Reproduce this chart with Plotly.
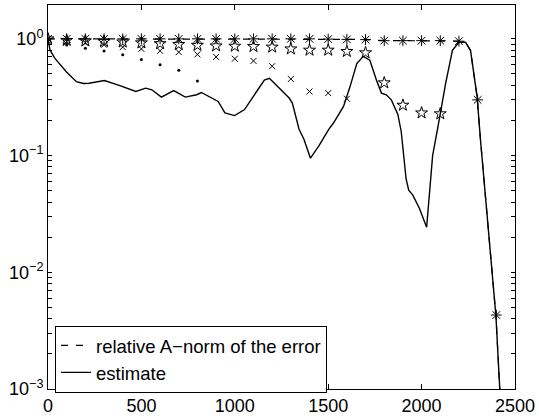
import plotly.graph_objects as go

# estimate (solid line)
est_x = [0, 5, 11, 37, 99, 152, 190, 220, 302, 381, 470, 523, 556, 607, 673, 735, 796, 821,
         911, 947, 999, 1052, 1105, 1158, 1185, 1229, 1291, 1308, 1344, 1370, 1405, 1450,
         1503, 1529, 1582, 1617, 1653, 1688, 1723, 1758, 1785, 1811, 1838, 1873, 1891, 1917,
         1931, 1953, 1988, 2027, 2041, 2059, 2085, 2129, 2165, 2200, 2235, 2262, 2297, 2315,
         2398, 2420]
est_y = [1.0, 0.9, 0.80, 0.68, 0.52, 0.43, 0.415, 0.417, 0.44, 0.40, 0.354, 0.378, 0.366,
         0.317, 0.36, 0.317, 0.332, 0.347, 0.291, 0.232, 0.22, 0.248, 0.332, 0.444, 0.459,
         0.39, 0.311, 0.282, 0.168, 0.138, 0.095, 0.121, 0.168, 0.191, 0.264, 0.39, 0.615,
         0.708, 0.656, 0.444, 0.343, 0.332, 0.30, 0.225, 0.16, 0.063, 0.0505, 0.0458,
         0.0354, 0.0243, 0.0458, 0.1, 0.168, 0.417, 0.796, 0.936, 0.936, 0.796, 0.32, 0.138,
         0.0042, 0.0009]

# relative A-norm of the error (dashed line)
err_x = [0, 100, 200, 300, 400, 500, 600, 700, 800, 900, 1000, 1100, 1200, 1300, 1400,
         1500, 1600, 1700, 1800, 1900, 2000, 2100, 2200, 2235, 2262, 2297, 2315, 2398, 2420]
err_y = [1.0, 1.0, 1.0, 1.0, 1.0, 1.0, 1.0, 1.0, 1.0, 1.0, 1.0, 1.0, 1.0, 1.0, 1.0,
         0.995, 0.99, 0.985, 0.965, 0.965, 0.965, 0.965, 0.955, 0.936, 0.796, 0.32, 0.138,
         0.0042, 0.0009]

# asterisk markers (every 100 iterations)
ast_x = [0, 100, 200, 300, 400, 500, 600, 700, 800, 900, 1000, 1100, 1200, 1300, 1400,
         1500, 1600, 1700, 1800, 1900, 2000, 2100, 2200, 2300, 2400]
ast_y = [1.0, 1.0, 1.0, 1.0, 1.0, 1.0, 1.0, 1.0, 1.0, 1.0, 1.0, 1.0, 1.0, 1.0, 1.0,
         0.995, 0.99, 0.985, 0.965, 0.965, 0.965, 0.965, 0.955, 0.30, 0.0043]

# star markers
star_x = [0, 100, 200, 300, 400, 500, 600, 700, 800, 900, 1000, 1100, 1200, 1300, 1400,
          1500, 1600, 1700, 1800, 1900, 2000, 2100]
star_y = [1.0, 0.97, 0.96, 0.95, 0.94, 0.925, 0.91, 0.895, 0.88, 0.87, 0.865, 0.86, 0.85,
          0.82, 0.80, 0.80, 0.78, 0.76, 0.42, 0.27, 0.232, 0.228]

# cross markers
cross_x = [0, 100, 200, 300, 400, 500, 600, 700, 800, 900, 1000, 1100, 1200, 1300, 1400,
           1500, 1600]
cross_y = [1.0, 0.95, 0.925, 0.89, 0.85, 0.82, 0.79, 0.77, 0.736, 0.70, 0.675, 0.647,
           0.583, 0.453, 0.354, 0.343, 0.307]

# dot markers
dot_x = [0, 100, 200, 300, 400, 500, 600, 700, 800]
dot_y = [1.0, 0.885, 0.83, 0.785, 0.73, 0.664, 0.60, 0.537, 0.435]

x_ticks = [0, 500, 1000, 1500, 2000, 2500]
# decade ticks (labelled) followed by the unlabelled 2..9 subdivisions
y_ticks = [0.001, 0.01, 0.1, 1,
           0.002, 0.003, 0.004, 0.005, 0.006, 0.007, 0.008, 0.009,
           0.02, 0.03, 0.04, 0.05, 0.06, 0.07, 0.08, 0.09,
           0.2, 0.3, 0.4, 0.5, 0.6, 0.7, 0.8, 0.9]
y_ticktext = ["10<sup>\u22123</sup>", "10<sup>\u22122</sup>", "10<sup>\u22121</sup>", "10<sup>0</sup>"] \
    + [""] * 24

Y_RANGE = [-3, 0.29]

fig = go.Figure()
fig.add_trace(go.Scatter(x=err_x, y=err_y, mode="lines", name="relative A\u2212norm of the error",
                         line=dict(color="black", width=1.2, dash="7px,8px")))
fig.add_trace(go.Scatter(x=est_x, y=est_y, mode="lines", name="estimate",
                         line=dict(color="black", width=1.4)))
fig.add_trace(go.Scatter(x=dot_x, y=dot_y, mode="markers", showlegend=False,
                         marker=dict(symbol="circle", size=3, color="black")))
fig.add_trace(go.Scatter(x=cross_x, y=cross_y, mode="markers", showlegend=False,
                         marker=dict(symbol="x-thin-open", size=6, color="black",
                                     line=dict(color="black", width=1))))
fig.add_trace(go.Scatter(x=star_x, y=star_y, mode="markers", showlegend=False,
                         marker=dict(symbol="star-open", size=9, color="black",
                                     line=dict(color="black", width=1))))
fig.add_trace(go.Scatter(x=ast_x, y=ast_y, mode="markers", showlegend=False,
                         marker=dict(symbol="asterisk-open", size=9, color="black",
                                     line=dict(color="black", width=1))))

fig.update_layout(
    width=539, height=420,
    margin=dict(l=48, r=19, t=4, b=27),
    paper_bgcolor="white", plot_bgcolor="white",
    font=dict(family="Liberation Sans, Arial, sans-serif", size=18, color="black"),
    legend=dict(x=0.015, y=-0.01, xanchor="left", yanchor="bottom",
                bordercolor="black", borderwidth=1, bgcolor="white",
                font=dict(size=18.5), tracegroupgap=0),
    showlegend=True,
)
fig.update_xaxes(range=[0, 2500], tickvals=x_ticks, ticks="inside", ticklen=5,
                 tickcolor="black", showline=True, linecolor="black", linewidth=1,
                 mirror="ticks", showgrid=False, zeroline=False, ticklabeloverflow="allow")
fig.update_yaxes(type="log", range=Y_RANGE, tickmode="array", tickvals=y_ticks,
                 ticktext=y_ticktext, ticks="inside", ticklen=4, tickcolor="black",
                 showline=True, linecolor="black", linewidth=1, mirror="ticks",
                 showgrid=False, zeroline=False)

fig.write_html("out.html")
